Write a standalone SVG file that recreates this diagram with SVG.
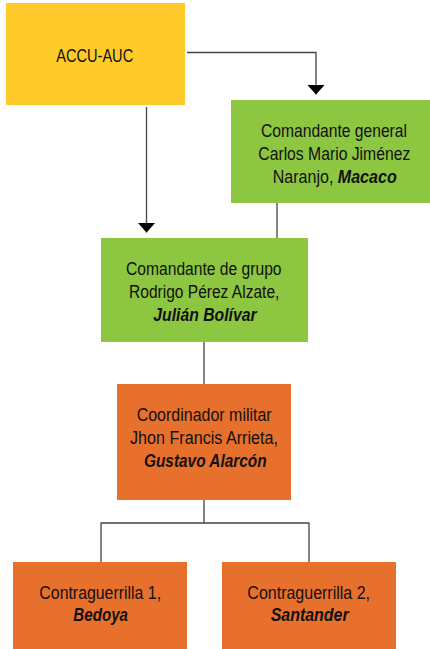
<svg xmlns="http://www.w3.org/2000/svg" width="430" height="649" viewBox="0 0 430 649">
<defs>
<style>
.t{font-family:"Liberation Sans",Arial,sans-serif;font-size:17.5px;fill:#111;text-anchor:middle}
.b{font-weight:bold;font-style:italic}
.c{stroke:#444;stroke-width:1.3;fill:none}
.y{fill:#FECB2A}.g{fill:#8DC640}.o{fill:#E8702D}
</style>
<marker id="ah" viewBox="0 0 10 18" refX="10" refY="9" markerWidth="10" markerHeight="18" markerUnits="userSpaceOnUse" orient="auto"><path d="M0,0 L10,9 L0,18 Z" fill="#000"/></marker>
</defs>
<g id="connectors">
<path class="c" d="M187,52.5 H316 V94.5" marker-end="url(#ah)"/>
<path class="c" d="M146.5,107 V232.5" marker-end="url(#ah)"/>
<path class="c" d="M277,203 V238"/>
<path class="c" d="M204,342 V384"/>
<path class="c" d="M204,500 V523 M101,523 H309 M101,522.4 V562 M309,522.4 V562"/>
</g>
<g id="accu">
<rect class="y" x="6" y="3" width="179" height="102"/>
<text class="t" x="94.7" y="62" textLength="77" lengthAdjust="spacingAndGlyphs">ACCU-AUC</text>
</g>
<g id="macaco">
<rect class="g" x="231" y="100" width="199" height="103"/>
<text class="t" x="334" y="137" textLength="146" lengthAdjust="spacingAndGlyphs">Comandante general</text>
<text class="t" x="334.3" y="160" textLength="152" lengthAdjust="spacingAndGlyphs">Carlos Mario Jiménez</text>
<text class="t" x="334.7" y="183" textLength="124" lengthAdjust="spacingAndGlyphs">Naranjo, <tspan class="b">Macaco</tspan></text>
</g>
<g id="bolivar">
<rect class="g" x="101" y="238" width="207" height="104"/>
<text class="t" x="203.8" y="275" textLength="155.5" lengthAdjust="spacingAndGlyphs">Comandante de grupo</text>
<text class="t" x="204.2" y="298" textLength="150.3" lengthAdjust="spacingAndGlyphs">Rodrigo Pérez Alzate,</text>
<text class="t b" x="205" y="321" textLength="103.3" lengthAdjust="spacingAndGlyphs">Julián Bolívar</text>
</g>
<g id="alarcon">
<rect class="o" x="117" y="384" width="174" height="116"/>
<text class="t" x="204.2" y="421" textLength="135" lengthAdjust="spacingAndGlyphs">Coordinador militar</text>
<text class="t" x="204" y="444" textLength="148" lengthAdjust="spacingAndGlyphs">Jhon Francis Arrieta,</text>
<text class="t b" x="205.3" y="467" textLength="122.7" lengthAdjust="spacingAndGlyphs">Gustavo Alarcón</text>
</g>
<g id="bedoya">
<rect class="o" x="13" y="562" width="174" height="87"/>
<text class="t" x="100.2" y="599" textLength="121.7" lengthAdjust="spacingAndGlyphs">Contraguerrilla 1,</text>
<text class="t b" x="100.7" y="621" textLength="54.7" lengthAdjust="spacingAndGlyphs">Bedoya</text>
</g>
<g id="santander">
<rect class="o" x="222" y="562" width="174" height="87"/>
<text class="t" x="308.7" y="599" textLength="122.7" lengthAdjust="spacingAndGlyphs">Contraguerrilla 2,</text>
<text class="t b" x="309.7" y="621" textLength="78" lengthAdjust="spacingAndGlyphs">Santander</text>
</g>
</svg>
